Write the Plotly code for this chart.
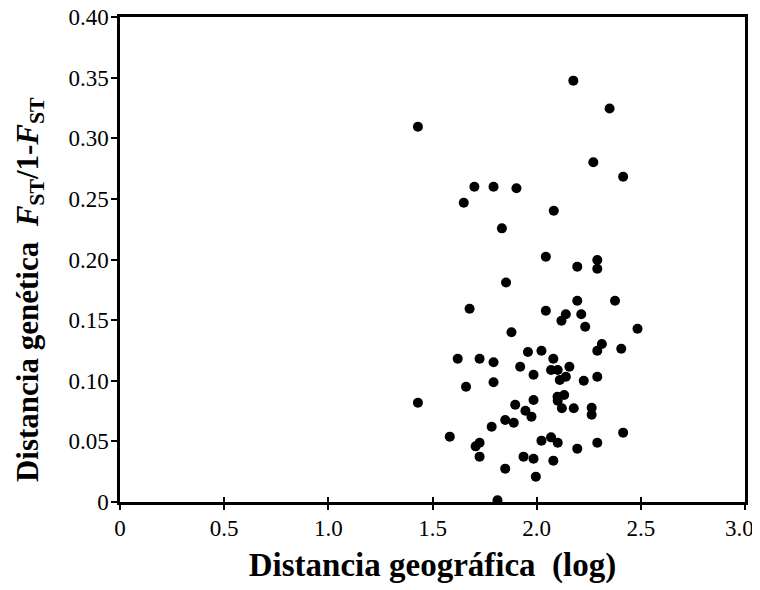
import plotly.graph_objects as go

# Geographic distance (log) and genetic distance FST/(1-FST)
geo_log = [1.430, 1.430, 1.701, 1.793, 1.903, 1.650, 1.833, 1.853, 1.678, 1.879,
           1.621, 1.726, 1.793, 1.921, 1.661, 1.793, 1.897, 1.849, 1.890, 1.784,
           1.583, 1.726, 1.707, 1.726, 1.849, 1.812, 2.176, 2.350, 2.272, 2.082,
           2.044, 2.195, 2.291, 2.291, 2.195, 2.376, 2.044, 2.140, 2.119, 2.214,
           2.233, 2.313, 2.291, 2.406, 1.958, 2.023, 2.080, 1.985, 2.069, 2.101,
           2.157, 2.140, 2.111, 2.226, 2.291, 2.132, 2.100, 2.101, 1.985, 2.121,
           2.178, 2.264, 2.264, 1.946, 1.975, 2.023, 2.069, 2.101, 2.195, 2.291,
           1.937, 1.985, 2.080, 1.996, 2.415, 2.484, 2.415]
gen_dist = [0.3095, 0.0819, 0.2600, 0.2600, 0.2587, 0.2468, 0.2257, 0.1810, 0.1594, 0.1400,
            0.1182, 0.1182, 0.1152, 0.1116, 0.0951, 0.0987, 0.0802, 0.0676, 0.0654, 0.0621,
            0.0539, 0.0489, 0.0459, 0.0374, 0.0275, 0.0014, 0.3475, 0.3245, 0.2802, 0.2402,
            0.2023, 0.1941, 0.1996, 0.1924, 0.1660, 0.1660, 0.1578, 0.1548, 0.1495, 0.1548,
            0.1446, 0.1303, 0.1248, 0.1264, 0.1237, 0.1248, 0.1182, 0.1050, 0.1089, 0.1089,
            0.1116, 0.1033, 0.1006, 0.1000, 0.1033, 0.0882, 0.0868, 0.0835, 0.0841, 0.0773,
            0.0773, 0.0778, 0.0720, 0.0753, 0.0704, 0.0506, 0.0533, 0.0489, 0.0440, 0.0489,
            0.0374, 0.0357, 0.0341, 0.0209, 0.2683, 0.1429, 0.0572]

x_tickvals = [0, 0.5, 1.0, 1.5, 2.0, 2.5, 3.0]
x_ticktext = ["0", "0.5", "1.0", "1.5", "2.0", "2.5", "3.0\u00a0\u00a0"]
y_tickvals = [0, 0.05, 0.10, 0.15, 0.20, 0.25, 0.30, 0.35, 0.40]
y_ticktext = ["0", "0.05", "0.10", "0.15", "0.20", "0.25", "0.30", "0.35", "0.40"]

FONT = "Liberation Serif"

fig = go.Figure()
fig.add_trace(go.Scatter(
    x=geo_log, y=gen_dist, mode="markers",
    marker=dict(color="black", size=10, line=dict(width=0)),
    showlegend=False, hoverinfo="x+y",
))
# invisible trace on overlay axis to carry inner x ticks
fig.add_trace(go.Scatter(x=[None], y=[None], xaxis="x2", showlegend=False))

fig.update_layout(
    width=760, height=590,
    margin=dict(l=112, r=23, t=9, b=96, autoexpand=False),
    paper_bgcolor="white", plot_bgcolor="white",
    font=dict(family=FONT, color="black"),
    xaxis=dict(
        range=[0, 3.0], tickvals=x_tickvals, ticktext=x_ticktext,
        showgrid=False, zeroline=False, automargin=False,
        showline=True, linecolor="black", linewidth=2.5, mirror=True,
        ticks="outside", ticklen=5, tickwidth=2, tickcolor="black",
        tickfont=dict(family=FONT, size=23, color="black"),
        ticklabelstandoff=-1, ticklabeloverflow="allow",
        title=dict(text="<b>Distancia geográfica  (log)</b>",
                   font=dict(family=FONT, size=33, color="black"), standoff=13),
    ),
    xaxis2=dict(
        range=[0, 3.0], tickvals=x_tickvals, overlaying="x", side="bottom",
        showgrid=False, zeroline=False, showline=False, showticklabels=False,
        automargin=False,
        ticks="inside", ticklen=5, tickwidth=2, tickcolor="black",
    ),
    yaxis=dict(
        range=[0, 0.40], tickvals=y_tickvals, ticktext=y_ticktext,
        showgrid=False, zeroline=False, automargin=False,
        showline=True, linecolor="black", linewidth=2.5, mirror=True,
        ticks="outside", ticklen=6, tickwidth=2, tickcolor="black",
        tickfont=dict(family=FONT, size=23, color="black"),
        ticklabelstandoff=-2, ticklabeloverflow="allow",
    ),
    annotations=[dict(
        text="<b>Distancia genética  <i>F</i><sub>ST</sub>/1-<i>F</i><sub>ST</sub></b>",
        xref="paper", yref="paper", x=-0.144, y=0.437,
        xanchor="center", yanchor="middle", textangle=-90, showarrow=False,
        font=dict(family=FONT, size=31, color="black"),
    )],
)

fig.write_html("out.html")
